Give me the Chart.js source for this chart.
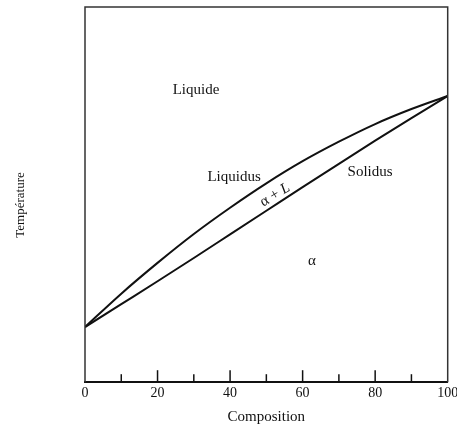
<!DOCTYPE html>
<html>
<head>
<meta charset="utf-8">
<script src="https://cdn.jsdelivr.net/npm/chart.js@4.4.0/dist/chart.umd.min.js"></script>
<style>
  html, body { margin: 0; padding: 0; background: #fff; }
  #wrap { width: 457px; height: 426px; }
</style>
</head>
<body>
<div id="wrap"><canvas id="diagramme"></canvas></div>
<script>
// composition (%) and temperature (arbitrary units, 0-100 across the frame)
const composition = [0, 10, 20, 30, 40, 50, 60, 70, 80, 90, 100];
const liquidus = [14.7, 23.6, 31.8, 39.5, 46.5, 53.0, 58.9, 64.1, 68.8, 72.8, 76.3];
const solidus = [14.7, 20.8, 26.9, 33.1, 39.4, 45.7, 52.0, 58.2, 64.4, 70.4, 76.3];

const xTicks = [0, 20, 40, 60, 80, 100];
const minorTicks = [10, 30, 50, 70, 90];

// region labels, placed in data coordinates
const etiquettes = [
    { text: "Liquide", x: 30.6, y: 77.9, angle: 0 },
    { text: "Liquidus", x: 41.1, y: 54.7, angle: 0 },
    { text: "Solidus", x: 78.6, y: 56.0, angle: 0 },
    { text: "α + L", x: 52.4, y: 49.9, angle: -31 },
    { text: "α", x: 62.6, y: 32.3, angle: 0 }
];

const serif = '"Liberation Serif", "DejaVu Serif", serif';

function toPoints(ys) {
    return composition.map((c, i) => ({ x: c, y: ys[i] }));
}

// frame + inward ticks + text labels
const cadrePlugin = {
    id: 'cadre',
    afterDraw(chart) {
        const ctx = chart.ctx;
        const area = chart.chartArea;
        const xs = chart.scales.x;
        const ys = chart.scales.y;

        ctx.save();
        ctx.strokeStyle = '#333';
        ctx.lineWidth = 1.5;
        ctx.beginPath();
        ctx.moveTo(area.left, area.bottom);
        ctx.lineTo(area.left, area.top);
        ctx.lineTo(area.right, area.top);
        ctx.lineTo(area.right, area.bottom);
        ctx.stroke();

        ctx.strokeStyle = '#111';
        ctx.lineWidth = 1.5;
        minorTicks.concat(xTicks.slice(1, -1)).forEach(v => {
            const px = xs.getPixelForValue(v);
            const len = v % 20 === 0 ? 12 : 8;
            ctx.beginPath();
            ctx.moveTo(px, area.bottom);
            ctx.lineTo(px, area.bottom - len);
            ctx.stroke();
        });

        ctx.fillStyle = '#111';
        ctx.textAlign = 'center';
        ctx.textBaseline = 'middle';

        // y axis title
        ctx.save();
        ctx.translate(20.5, 205);
        ctx.rotate(-Math.PI / 2);
        ctx.font = '13px ' + serif;
        ctx.fillText('Température', 0, 0);
        ctx.restore();

        etiquettes.forEach(e => {
            ctx.save();
            ctx.translate(xs.getPixelForValue(e.x), ys.getPixelForValue(e.y));
            ctx.rotate(e.angle * Math.PI / 180);
            ctx.font = '15px ' + serif;
            if (e.text === "α + L") {
                const a = "α + ";
                ctx.textAlign = 'left';
                const wa = ctx.measureText(a).width;
                ctx.font = 'italic 15px ' + serif;
                const wl = ctx.measureText("L").width;
                ctx.font = '15px ' + serif;
                ctx.fillText(a, -(wa + wl) / 2, 0);
                ctx.font = 'italic 15px ' + serif;
                ctx.fillText("L", -(wa + wl) / 2 + wa, 0);
            } else {
                ctx.fillText(e.text, 0, 0);
            }
            ctx.restore();
        });
        ctx.restore();
    }
};

new Chart(document.getElementById('diagramme'), {
    type: 'line',
    data: {
        datasets: [{
            label: 'Liquidus',
            data: toPoints(liquidus),
            borderColor: '#111',
            borderWidth: 2,
            pointRadius: 0,
            cubicInterpolationMode: 'monotone',
            fill: false
        }, {
            label: 'Solidus',
            data: toPoints(solidus),
            borderColor: '#111',
            borderWidth: 2,
            pointRadius: 0,
            cubicInterpolationMode: 'monotone',
            fill: false
        }]
    },
    options: {
        responsive: true,
        maintainAspectRatio: false,
        animation: false,
        layout: { padding: { left: 85, top: 7, right: 9.3, bottom: 0 } },
        plugins: {
            legend: { display: false },
            tooltip: { enabled: false }
        },
        scales: {
            x: {
                type: 'linear',
                min: 0,
                max: 100,
                grid: { display: false, drawTicks: false },
                border: { display: true, color: '#111', width: 2 },
                afterBuildTicks: axis => { axis.ticks = xTicks.map(v => ({ value: v })); },
                afterFit: axis => { axis.paddingRight = 0; },
                ticks: {
                    autoSkip: false,
                    maxRotation: 0,
                    padding: 3,
                    color: '#111',
                    font: { family: serif, size: 14 }
                },
                title: {
                    display: true,
                    text: 'Composition',
                    color: '#111',
                    font: { family: serif, size: 15 },
                    padding: { top: 3, bottom: 0 }
                }
            },
            y: {
                type: 'linear',
                min: 0,
                max: 100,
                grid: { display: false, drawTicks: false },
                border: { display: false },
                ticks: { display: false },
                title: { display: false }
            }
        }
    },
    plugins: [cadrePlugin]
});
</script>
</body>
</html>
